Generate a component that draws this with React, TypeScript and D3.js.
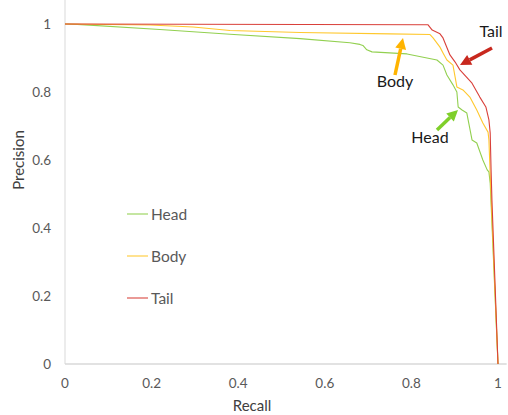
import React, { useEffect, useRef } from 'react';
import * as d3 from 'd3';

// precision-recall points
const headRecall = [0, 0.028, 0.219, 0.381, 0.543, 0.658, 0.681, 0.688, 0.697, 0.709, 0.79, 0.859, 0.873, 0.882, 0.896, 0.905, 0.908, 0.917, 0.928, 0.94, 0.951, 0.965, 0.975, 0.979, 0.982, 1];
const headPrecision = [1, 0.999, 0.984, 0.97, 0.957, 0.945, 0.94, 0.937, 0.924, 0.918, 0.912, 0.894, 0.879, 0.85, 0.821, 0.8, 0.756, 0.747, 0.738, 0.659, 0.65, 0.6, 0.571, 0.565, 0.532, 0];

const bodyRecall = [0, 0.196, 0.296, 0.381, 0.543, 0.751, 0.843, 0.85, 0.866, 0.873, 0.882, 0.896, 0.901, 0.905, 0.919, 0.935, 0.951, 0.965, 0.977, 0.979, 0.982, 1];
const bodyPrecision = [1, 0.997, 0.991, 0.981, 0.975, 0.971, 0.969, 0.959, 0.932, 0.915, 0.894, 0.879, 0.844, 0.815, 0.806, 0.785, 0.747, 0.709, 0.682, 0.659, 0.556, 0];

const tailRecall = [0, 0.838, 0.848, 0.866, 0.873, 0.889, 0.901, 0.912, 0.94, 0.958, 0.972, 0.979, 0.982, 0.984, 0.986, 1];
const tailPrecision = [1, 0.998, 0.982, 0.971, 0.959, 0.909, 0.888, 0.865, 0.826, 0.785, 0.756, 0.718, 0.679, 0.571, 0.482, 0];

const seriesNames = ['Head', 'Body', 'Tail'];
const seriesColors = ['#92d050', '#ffc82e', '#d9403a'];
const xTicks = [0, 0.2, 0.4, 0.6, 0.8, 1];
const yTicks = [0, 0.2, 0.4, 0.6, 0.8, 1];

const App = () => {
  const svgRef = useRef<SVGSVGElement>(null);

  useEffect(() => {
    const width = 508;
    const height = 415;
    const font = 'Lato, "Open Sans", sans-serif';

    const svg = d3.select(svgRef.current).attr('width', width).attr('height', height);
    svg.selectAll('*').remove();

    const x = d3.scaleLinear().domain([0, 1]).range([65, 498]);
    const y = d3.scaleLinear().domain([0, 1]).range([364, 24]);

    // axes lines
    svg.append('line').attr('x1', x(0)).attr('x2', x(0)).attr('y1', 0).attr('y2', y(0))
      .attr('stroke', '#d9d9d9').attr('stroke-width', 1);
    svg.append('line').attr('x1', x(0)).attr('x2', x(1.02)).attr('y1', y(0)).attr('y2', y(0))
      .attr('stroke', '#d9d9d9').attr('stroke-width', 1.5);

    svg.append('g').selectAll('text').data(yTicks).join('text')
      .attr('x', 51).attr('y', (d) => y(d) + 5)
      .attr('text-anchor', 'end').attr('font-family', font).attr('font-size', 13.5)
      .attr('fill', '#595959').text((d) => d3.format('')(d));

    svg.append('g').selectAll('text').data(xTicks).join('text')
      .attr('x', (d) => x(d)).attr('y', 388)
      .attr('text-anchor', 'middle').attr('font-family', font).attr('font-size', 13.5)
      .attr('fill', '#595959').text((d) => d3.format('')(d));

    svg.append('text').attr('x', 252).attr('y', 411).attr('text-anchor', 'middle')
      .attr('font-family', font).attr('font-size', 15).attr('fill', '#404040').text('Recall');
    svg.append('text').attr('transform', 'translate(24,160) rotate(-90)').attr('text-anchor', 'middle')
      .attr('font-family', font).attr('font-size', 15).attr('fill', '#404040').text('Precision');

    const line = d3.line<[number, number]>().x((d) => x(d[0])).y((d) => y(d[1]));
    const all = [
      d3.zip(headRecall, headPrecision),
      d3.zip(bodyRecall, bodyPrecision),
      d3.zip(tailRecall, tailPrecision),
    ];
    all.forEach((pts, i) => {
      svg.append('path').datum(pts as [number, number][])
        .attr('fill', 'none').attr('stroke', seriesColors[i]).attr('stroke-width', 1.1)
        .attr('stroke-linejoin', 'round').attr('d', line);
    });

    // legend
    const legend = svg.append('g');
    seriesNames.forEach((name, i) => {
      const ly = 214 + i * 42;
      legend.append('line').attr('x1', 127).attr('x2', 148).attr('y1', ly).attr('y2', ly)
        .attr('stroke', seriesColors[i]).attr('stroke-width', 1.5).attr('opacity', 0.7);
      legend.append('text').attr('x', 151).attr('y', ly + 6).attr('font-family', font)
        .attr('font-size', 15.5).attr('fill', '#595959').text(name);
    });

    // annotations
    const arrows = [
      { from: [437, 130], to: [458, 110], color: '#7fcf2a', label: 'Head', lx: 430, ly: 143 },
      { from: [395, 75], to: [403, 38], color: '#ffb400', label: 'Body', lx: 395, ly: 87 },
      { from: [492, 48], to: [460, 65], color: '#c8281e', label: 'Tail', lx: 491, ly: 37 },
    ];
    arrows.forEach((a) => {
      const dx = a.to[0] - a.from[0];
      const dy = a.to[1] - a.from[1];
      const len = Math.sqrt(dx * dx + dy * dy);
      const ux = dx / len;
      const uy = dy / len;
      const headLen = 11;
      const bx = a.to[0] - ux * headLen;
      const by = a.to[1] - uy * headLen;
      svg.append('line').attr('x1', a.from[0]).attr('y1', a.from[1]).attr('x2', bx).attr('y2', by)
        .attr('stroke', a.color).attr('stroke-width', 3.5);
      const w = 5.5;
      svg.append('path')
        .attr('d', `M${a.to[0]},${a.to[1]}L${bx - uy * w},${by + ux * w}L${bx + uy * w},${by - ux * w}Z`)
        .attr('fill', a.color);
      svg.append('text').attr('x', a.lx).attr('y', a.ly).attr('text-anchor', 'middle')
        .attr('font-family', font).attr('font-size', 16).attr('fill', '#1a1a1a').text(a.label);
    });
  }, []);

  return (
    <div style={{ position: 'absolute', left: 0, top: 0 }}>
      <svg ref={svgRef}></svg>
    </div>
  );
};

export default App;
